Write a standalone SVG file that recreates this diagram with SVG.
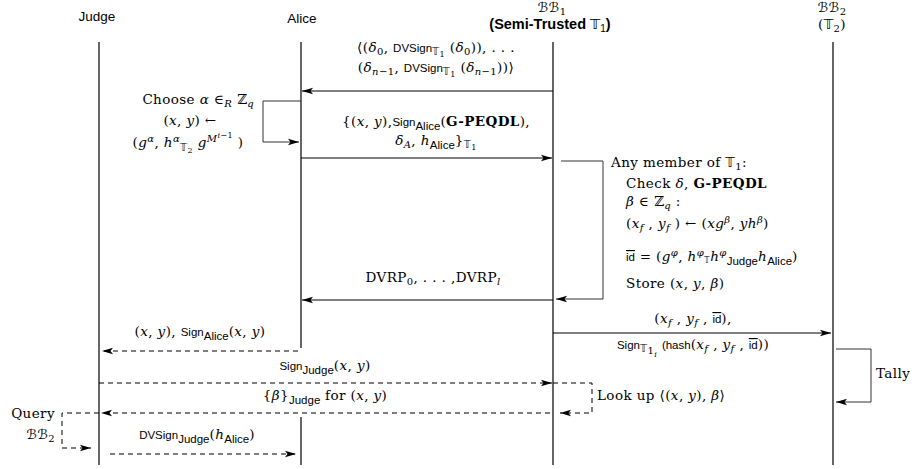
<svg xmlns="http://www.w3.org/2000/svg" width="916" height="469" viewBox="0 0 916 469">
<style>
text{font-family:"DejaVu Serif","Liberation Serif",serif;font-size:13.5px;letter-spacing:0.4px;fill:#000}
.sf{font-family:"Liberation Sans","DejaVu Sans",sans-serif;font-size:11.5px;letter-spacing:0}
.hd{font-family:"Liberation Sans","DejaVu Sans",sans-serif;font-size:13.5px;letter-spacing:0}
.hb{font-family:"Liberation Sans","DejaVu Sans",sans-serif;font-size:14.5px;font-weight:bold;letter-spacing:0}
.i{font-style:italic}
.b{font-weight:bold}
.sb{font-size:10px}
.ssb{font-size:8px}
.bb{font-family:"DejaVu Sans",sans-serif}
.cal{font-family:"DejaVu Sans",sans-serif;font-style:normal}
.ov{text-decoration:overline}
.life{stroke:#000;stroke-width:1.2;fill:none}
.msg{stroke:#000;stroke-width:1.2;fill:none}
.dash{stroke:#000;stroke-width:1;fill:none;stroke-dasharray:5,4}
.loop{stroke:#333;stroke-width:1;fill:none}
</style>
<defs>
<marker id="ah" markerUnits="userSpaceOnUse" markerWidth="12" markerHeight="8" refX="11" refY="4" orient="auto">
<path d="M0,0.8 L11,4 L0,7.2 L2.5,4 Z" fill="#000"/>
</marker>
</defs>

<g id="judge">
<text class="hd" x="97" y="21" text-anchor="middle">Judge</text>
<line class="life" x1="99" y1="42" x2="99" y2="465"/>
</g>
<g id="alice">
<text class="hd" x="302" y="23" text-anchor="middle">Alice</text>
<line class="life" x1="301" y1="42" x2="301" y2="348"/>
<line class="life" x1="301" y1="417" x2="301" y2="465"/>
</g>
<g id="bb1">
<text x="552" y="12" text-anchor="middle" font-size="13"><tspan class="cal">ℬℬ</tspan><tspan class="sb" baseline-shift="-3">1</tspan></text>
<text class="hb" x="550" y="29" text-anchor="middle">(Semi-Trusted <tspan class="bb" font-weight="normal">𝕋</tspan><tspan font-weight="normal" class="sb" baseline-shift="-3">1</tspan>)</text>
<line class="life" x1="553" y1="42" x2="553" y2="465"/>
</g>
<g id="bb2">
<text x="832" y="12" text-anchor="middle" font-size="13"><tspan class="cal">ℬℬ</tspan><tspan class="sb" baseline-shift="-3">2</tspan></text>
<text x="832" y="29" text-anchor="middle" font-size="14">(<tspan class="bb">𝕋</tspan><tspan class="sb" baseline-shift="-3">2</tspan>)</text>
<line class="life" x1="833" y1="42" x2="833" y2="465"/>
</g>

<g id="connectors">
<line class="msg" x1="553" y1="91" x2="302" y2="91" marker-end="url(#ah)"/>
<polyline class="loop" points="301,101 263,101 263,142 299,142" marker-end="url(#ah)"/>
<line class="msg" x1="301" y1="158" x2="552" y2="158" marker-end="url(#ah)"/>
<polyline class="loop" points="561,161 603,161 603,299 556,299" marker-end="url(#ah)"/>
<line class="msg" x1="553" y1="300" x2="302" y2="300" marker-end="url(#ah)"/>
<line class="msg" x1="553" y1="333" x2="831" y2="333" marker-end="url(#ah)"/>
<line class="dash" x1="298" y1="351" x2="102" y2="351" marker-end="url(#ah)"/>
<polyline class="loop" points="836,349 871,349 871,402 836,402" marker-end="url(#ah)"/>
<line class="dash" x1="99" y1="383" x2="552" y2="383" marker-end="url(#ah)"/>
<polyline class="dash" points="553,383 592,383 592,413 560,413" marker-end="url(#ah)"/>
<line class="dash" x1="550" y1="413" x2="101" y2="413" marker-end="url(#ah)"/>
<polyline class="dash" points="99,413 62,413 62,448 91,448" marker-end="url(#ah)"/>
<line class="dash" x1="110" y1="454" x2="296" y2="454" marker-end="url(#ah)"/>
</g>

<g id="labels">
<text x="436" y="52" text-anchor="middle">⟨(<tspan class="i">δ</tspan><tspan class="sb" baseline-shift="-3">0</tspan>, <tspan class="sf">DVSign</tspan><tspan class="bb sb" baseline-shift="-3">𝕋</tspan><tspan class="ssb" baseline-shift="-5">1</tspan> (<tspan class="i">δ</tspan><tspan class="sb" baseline-shift="-3">0</tspan>)), . . .</text>
<text x="436" y="72" text-anchor="middle">(<tspan class="i">δ</tspan><tspan class="sb" baseline-shift="-3"><tspan class="i">n</tspan>−1</tspan>, <tspan class="sf">DVSign</tspan><tspan class="bb sb" baseline-shift="-3">𝕋</tspan><tspan class="ssb" baseline-shift="-5">1</tspan> (<tspan class="i">δ</tspan><tspan class="sb" baseline-shift="-3"><tspan class="i">n</tspan>−1</tspan>))⟩</text>

<text x="254" y="104" text-anchor="end">Choose <tspan class="i">α</tspan> ∈<tspan class="sb i" baseline-shift="-3">R</tspan> ℤ<tspan class="sb i" baseline-shift="-3">q</tspan></text>
<text x="190" y="125" text-anchor="middle">(<tspan class="i">x</tspan>, <tspan class="i">y</tspan>) ←</text>
<text x="188" y="147" text-anchor="middle">(<tspan class="i">g</tspan><tspan class="sb i" baseline-shift="5">α</tspan>, <tspan class="i">h</tspan><tspan class="sb i" baseline-shift="5">α</tspan><tspan class="bb sb" baseline-shift="-4">𝕋</tspan><tspan class="ssb" baseline-shift="-6">2</tspan> <tspan class="i">g</tspan><tspan class="sb i" baseline-shift="5">M</tspan><tspan class="ssb i" baseline-shift="9">i</tspan><tspan class="ssb" baseline-shift="9">−1</tspan>  )</text>

<text x="436" y="126" text-anchor="middle">{(<tspan class="i">x</tspan>, <tspan class="i">y</tspan>),<tspan class="sf">Sign</tspan><tspan class="sf" baseline-shift="-4">Alice</tspan>(<tspan class="b">G-PEQDL</tspan>),</text>
<text x="436" y="145" text-anchor="middle"><tspan class="i">δ</tspan><tspan class="sb i" baseline-shift="-3">A</tspan>, <tspan class="i">h</tspan><tspan class="sf" baseline-shift="-4">Alice</tspan>}<tspan class="bb sb" baseline-shift="-3">𝕋</tspan><tspan class="ssb" baseline-shift="-5">1</tspan></text>

<text x="611" y="167">Any member of <tspan class="bb">𝕋</tspan><tspan class="sb" baseline-shift="-3">1</tspan>:</text>
<text x="626" y="188">Check <tspan class="i">δ</tspan>, <tspan class="b">G-PEQDL</tspan></text>
<text x="626" y="206"><tspan class="i">β</tspan> ∈ ℤ<tspan class="sb i" baseline-shift="-3">q</tspan> :</text>
<text x="626" y="228">(<tspan class="i">x</tspan><tspan class="sb i" baseline-shift="-3">f</tspan> , <tspan class="i">y</tspan><tspan class="sb i" baseline-shift="-3">f</tspan> ) ← (<tspan class="i">xg</tspan><tspan class="sb i" baseline-shift="5">β</tspan>, <tspan class="i">yh</tspan><tspan class="sb i" baseline-shift="5">β</tspan>)</text>
<text x="626" y="261"><tspan class="sf ov">id</tspan> = (<tspan class="i">g</tspan><tspan class="sb i" baseline-shift="5">φ</tspan>, <tspan class="i">h</tspan><tspan class="sb i" baseline-shift="5">φ</tspan><tspan class="bb ssb" baseline-shift="-2">𝕋</tspan><tspan class="i">h</tspan><tspan class="sb i" baseline-shift="5">φ</tspan><tspan class="sf" font-size="11px" baseline-shift="-4">Judge</tspan><tspan class="i">h</tspan><tspan class="sf" font-size="11px" baseline-shift="-4">Alice</tspan>)</text>
<text x="626" y="288">Store (<tspan class="i">x</tspan>, <tspan class="i">y</tspan>, <tspan class="i">β</tspan>)</text>

<text x="433" y="282" text-anchor="middle">DVRP<tspan class="sb" baseline-shift="-3">0</tspan>, . . . ,DVRP<tspan class="sb i" baseline-shift="-3">l</tspan></text>

<text x="693" y="323" text-anchor="middle">(<tspan class="i">x</tspan><tspan class="sb i" baseline-shift="-3">f</tspan> , <tspan class="i">y</tspan><tspan class="sb i" baseline-shift="-3">f</tspan> , <tspan class="sf ov">id</tspan>),</text>
<text x="693" y="349" text-anchor="middle"><tspan class="sf">Sign</tspan><tspan class="bb sb" baseline-shift="-3">𝕋</tspan><tspan class="sb" baseline-shift="-5">1</tspan><tspan class="ssb i" baseline-shift="-8">i</tspan> <tspan class="sf">(hash</tspan>(<tspan class="i">x</tspan><tspan class="sb i" baseline-shift="-3">f</tspan> , <tspan class="i">y</tspan><tspan class="sb i" baseline-shift="-3">f</tspan> , <tspan class="sf ov">id</tspan>))</text>

<text x="200" y="336" text-anchor="middle">(<tspan class="i">x</tspan>, <tspan class="i">y</tspan>), <tspan class="sf">Sign</tspan><tspan class="sf" baseline-shift="-4">Alice</tspan>(<tspan class="i">x</tspan>, <tspan class="i">y</tspan>)</text>
<text x="876" y="378">Tally</text>
<text x="325" y="370" text-anchor="middle"><tspan class="sf">Sign</tspan><tspan class="sf" baseline-shift="-4">Judge</tspan>(<tspan class="i">x</tspan>, <tspan class="i">y</tspan>)</text>
<text x="597" y="400">Look up ⟨(<tspan class="i">x</tspan>, <tspan class="i">y</tspan>), <tspan class="i">β</tspan>⟩</text>
<text x="325" y="400" text-anchor="middle">{<tspan class="i">β</tspan>}<tspan class="sf" baseline-shift="-4">Judge</tspan> for (<tspan class="i">x</tspan>, <tspan class="i">y</tspan>)</text>
<text x="55" y="418" text-anchor="end">Query</text>
<text x="55" y="439" text-anchor="end"><tspan class="cal">ℬℬ</tspan><tspan class="sb" baseline-shift="-3">2</tspan></text>
<text x="197" y="439" text-anchor="middle"><tspan class="sf">DVSign</tspan><tspan class="sf" baseline-shift="-4">Judge</tspan>(<tspan class="i">h</tspan><tspan class="sf" baseline-shift="-4">Alice</tspan>)</text>
</g>
</svg>
